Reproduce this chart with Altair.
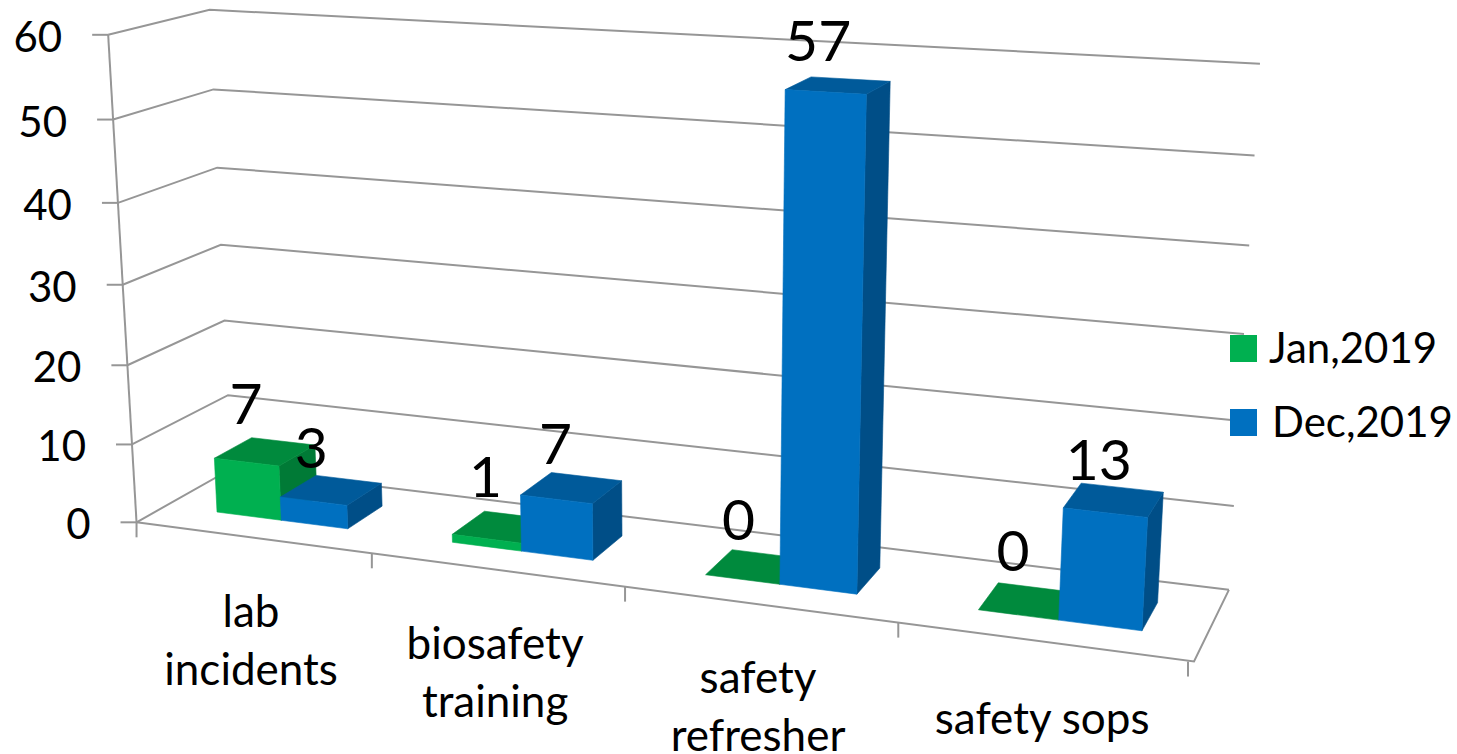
import altair as alt
import numpy as np
import pandas as pd

# Chart values
categories = ["lab incidents", "biosafety training", "safety refresher", "safety sops"]
category_lines = [["lab", "incidents"], ["biosafety", "training"], ["safety", "refresher"], ["safety sops"]]
jan_2019 = [7, 1, 0, 0]
dec_2019 = [3, 7, 57, 13]
value_ticks = [0, 10, 20, 30, 40, 50, 60]

# Face colours per series: front, top, right side
GREEN = ("#00B050", "#008A3D", "#007A36")
BLUE = ("#0070C0", "#005A9A", "#004E87")
GRID = "#969696"
FONT = "Lato"

# Camera calibration: box position (category, depth, value) -> screen pixel
CAMERA_POINTS = [
    (0, 0, 60, 108, 34), (0, 0, 50, 113, 119), (0, 0, 40, 118, 203), (0, 0, 30, 123, 285),
    (0, 0, 20, 128, 365), (0, 0, 10, 133, 445), (0, 0, 0, 137, 523),
    (0, 1, 60, 210, 9), (0, 1, 50, 213, 89), (0, 1, 40, 217, 168), (0, 1, 30, 221, 245),
    (0, 1, 20, 224, 321), (0, 1, 10, 228, 395),
    (4, 1, 60, 1259, 65), (4, 1, 50, 1255, 156), (4, 1, 40, 1249, 246), (4, 1, 30, 1245, 334),
    (4, 1, 10, 1234, 505), (4, 1, 0, 1229, 589),
    (4, 0, 0, 1196, 661), (1, 0, 0, 371, 553), (2, 0, 0, 624, 588), (3, 0, 0, 896, 622),
]


def fit_camera(points):
    rows, rhs = [], []
    for u, w, v, x, y in points:
        rows.append([u, w, v, 1, 0, 0, 0, 0, -x * u, -x * w, -x * v])
        rhs.append(x)
        rows.append([0, 0, 0, 0, u, w, v, 1, -y * u, -y * w, -y * v])
        rhs.append(y)
    p = np.linalg.lstsq(np.array(rows, float), np.array(rhs, float), rcond=None)[0]
    return np.append(p, 1.0).reshape(3, 4)


CAMERA = fit_camera(CAMERA_POINTS)


def project(u, w, v):
    sx, sy, s = CAMERA @ np.array([u, w, v, 1.0])
    return [round(float(sx / s), 2), round(float(sy / s), 2)]


def polygon(points, fill):
    return {
        "type": "Feature",
        "properties": {"fill": fill},
        "geometry": {"type": "Polygon", "coordinates": [points + [points[0]]]},
    }


def polyline(points):
    return {"type": "Feature", "properties": {}, "geometry": {"type": "LineString", "coordinates": points}}


# Bars occupy the middle of each category cell and of the floor's depth
BAR_LEFT, BAR_MID, BAR_RIGHT = 0.225, 0.505, 0.789
DEPTH_FRONT, DEPTH_BACK = 0.3, 0.7


def bar_faces(u0, u1, value, colours):
    front, top, side = colours
    f, b = DEPTH_FRONT, DEPTH_BACK
    faces = [
        polygon([project(u1, f, 0), project(u1, b, 0), project(u1, b, value), project(u1, f, value)], side),
        polygon([project(u0, f, value), project(u1, f, value), project(u1, b, value), project(u0, b, value)], top),
    ]
    if value > 0:
        faces.append(polygon([project(u0, f, 0), project(u1, f, 0), project(u1, f, value), project(u0, f, value)], front))
    return faces


faces = []
for i, (jan, dec) in enumerate(zip(jan_2019, dec_2019)):
    faces += bar_faces(i + BAR_LEFT, i + BAR_MID, jan, GREEN)
    faces += bar_faces(i + BAR_MID, i + BAR_RIGHT, dec, BLUE)

# Walls, floor and ticks
lines = [polyline([project(0, 0, t), project(0, 1, t), project(4, 1, t)]) for t in value_ticks]
lines.append(polyline([project(0, 0, 60), project(0, 0, 0)]))
lines.append(polyline([project(0, 0, 0), project(4, 0, 0), project(4, 1, 0)]))
for t in value_ticks:
    x, y = project(0, 0, t)
    lines.append(polyline([[x - 16, y], [x, y]]))
for i in range(5):
    x, y = project(i, 0, 0)
    if i == 4:
        x -= 6
    lines.append(polyline([[x, y], [x, y + 15]]))

identity = alt.Projection(type="identity", scale=1, translate=[0, 0])

line_layer = (
    alt.Chart(alt.Data(values=lines))
    .mark_geoshape(filled=False, stroke=GRID, strokeWidth=2)
    .project(**identity.to_dict())
)
face_layer = (
    alt.Chart(alt.Data(values=faces))
    .mark_geoshape(strokeWidth=0.6)
    .encode(
        fill=alt.Fill("properties.fill:N", scale=None),
        stroke=alt.Stroke("properties.fill:N", scale=None),
    )
    .project(**identity.to_dict())
)


def text_layer(frame, size, align="center"):
    return (
        alt.Chart(frame)
        .mark_text(font=FONT, fontSize=size, align=align, baseline="middle", color="black")
        .encode(
            x=alt.X("x:Q", scale=None, axis=None),
            y=alt.Y("y:Q", scale=None, axis=None),
            text="label:N",
        )
    )


# Value axis labels
tick_rows = []
for t in value_ticks:
    x, y = project(0, 0, t)
    tick_rows.append({"x": x - 46, "y": y + 4, "label": str(t)})
tick_text = text_layer(pd.DataFrame(tick_rows), 42, "right")

# Value labels above each bar, with the small per-label shifts that keep them clear of the bars
LABEL_SHIFT = [(-19, -45), (-20, -39), (-17, -47), (-16, -41), (-17, -44), (-20, -41), (-15, -47), (-15, -37)]
value_rows = []
placements = []
for i, (jan, dec) in enumerate(zip(jan_2019, dec_2019)):
    placements += [(jan, i + (BAR_LEFT + BAR_MID) / 2), (dec, i + (BAR_MID + BAR_RIGHT) / 2)]
for (value, u), (dx, dy) in zip(placements, LABEL_SHIFT):
    x, y = project(u, 0.5, value)
    value_rows.append({"x": x + dx, "y": y + dy, "label": str(value)})
value_text = text_layer(pd.DataFrame(value_rows), 57)

# Category labels, wrapped below the floor
category_rows = []
for i, parts in enumerate(category_lines):
    x, y = project(i + 0.5, 0, 0)
    for k, part in enumerate(parts):
        category_rows.append({"x": x - 1, "y": y + 76 + 58 * k + (3 if len(parts) == 1 else 0), "label": part})
category_text = text_layer(pd.DataFrame(category_rows), 44)

# Legend
legend_swatches = (
    alt.Chart(pd.DataFrame({"x": [1243.5, 1243.5], "y": [348.5, 422.5], "fill": [GREEN[0], BLUE[0]]}))
    .mark_square(size=729, opacity=1)
    .encode(
        x=alt.X("x:Q", scale=None, axis=None),
        y=alt.Y("y:Q", scale=None, axis=None),
        fill=alt.Fill("fill:N", scale=None),
    )
)
legend_text = text_layer(
    pd.DataFrame({"x": [1269, 1272], "y": [350, 424], "label": ["Jan,2019", "Dec,2019"]}), 42, "left"
)

chart = (
    alt.layer(line_layer, face_layer, tick_text, category_text, value_text, legend_swatches, legend_text)
    .properties(width=1457, height=754, padding=0, autosize=alt.AutoSizeParams(type="none"), background="white")
    .configure_view(stroke=None)
)

chart.save("out.html", embed_options={"renderer": "svg", "actions": False})
